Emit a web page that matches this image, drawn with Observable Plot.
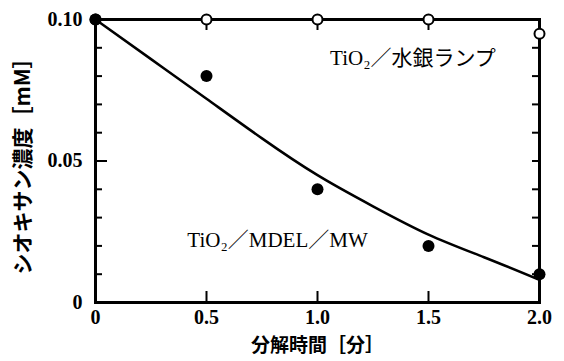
<!DOCTYPE html>
<html>
<head>
<meta charset="utf-8">
<script src="https://cdn.jsdelivr.net/npm/d3@7"></script>
<script src="https://cdn.jsdelivr.net/npm/@observablehq/plot@0.6"></script>
<style>
  html, body { margin: 0; padding: 0; background: #fff; }
</style>
</head>
<body>
<div id="chart"></div>
<script>
// Measured data
const times = [0, 0.5, 1.0, 1.5, 2.0];
const mdelMw = [0.100, 0.080, 0.040, 0.020, 0.010];   // TiO2/MDEL/MW (filled)
const mercury = [0.100, 0.100, 0.100, 0.100, 0.095];  // TiO2/水銀ランプ (open)
// Fitted curve
const fitTimes = [0, 0.25, 0.5, 0.75, 1.0, 1.25, 1.5, 1.75, 2.0];
const fitValues = [0.100, 0.086, 0.072, 0.058, 0.045, 0.034, 0.024, 0.016, 0.008];
// Ticks
const xTicks = [0, 0.5, 1.0, 1.5, 2.0];
const xTickLabels = ["0", "0.5", "1.0", "1.5", "2.0"];
const xInnerTicks = [0.5, 1.0, 1.5];
const yTicks = [0, 0.05, 0.10];
const yTickLabels = ["0", "0.05", "0.10"];
const yMinorTicks = [0.01, 0.02, 0.03, 0.04, 0.06, 0.07, 0.08, 0.09];
const yMajorInner = [0.05];
// Text
const xLabel = "分解時間［分］";
const yLabel = "シオキサン濃度［mM］";
const annotations = [
  {x: 1.43, y: 0.0862, text: "TiO₂／水銀ランプ"},
  {x: 0.82, y: 0.0219, text: "TiO₂／MDEL／MW"}
];

const filled = times.map((t, i) => ({t, v: mdelMw[i]}));
const open = times.map((t, i) => ({t, v: mercury[i]}));
const fit = fitTimes.map((t, i) => ({t, v: fitValues[i]}));

const serif = "'Liberation Serif', 'DejaVu Serif', 'Noto Sans CJK JP', serif";
const jp = "'Noto Sans CJK JP', sans-serif";

const W = 564, H = 361, ML = 95, MR = 25, MT = 19, MB = 59;
const FW = W - ML - MR, FH = H - MT - MB;
const tk = {stroke: "#000", strokeWidth: 2};

const chart = Plot.plot({
  width: W,
  height: H,
  marginLeft: ML,
  marginRight: MR,
  marginTop: MT,
  marginBottom: MB,
  x: {domain: [0, 2]},
  y: {domain: [0, 0.1]},
  style: {fontFamily: serif, background: "#fff", color: "#000"},
  marks: [
    Plot.axisX(xTicks, {anchor: "bottom", tickSize: 0, tickPadding: 7, fontSize: 20, fontWeight: "bold",
      tickFormat: (d) => xTickLabels[xTicks.indexOf(d)], label: null}),
    Plot.axisY(yTicks, {anchor: "left", tickSize: 0, tickPadding: 13, fontSize: 20, fontWeight: "bold",
      tickFormat: (d) => yTickLabels[yTicks.indexOf(d)], label: null}),
    Plot.frame({stroke: "#000", strokeWidth: 3}),
    Plot.line(fit, {x: "t", y: "v", curve: "natural", stroke: "#000", strokeWidth: 2.5}),
    Plot.text(annotations, {x: "x", y: "y", text: "text", fontSize: 21, fontFamily: serif, fill: "#000"}),
    Plot.text([xLabel], {frameAnchor: "bottom", dy: 43, lineAnchor: "middle", textAnchor: "middle",
      fontSize: 19, fontFamily: jp, fontWeight: "bold", fill: "#000"}),
    Plot.text([yLabel], {frameAnchor: "left", dx: -72, rotate: -90, lineAnchor: "middle", textAnchor: "middle",
      fontSize: 21, fontFamily: jp, fontWeight: "bold", fill: "#000"}),
    // inward ticks, drawn on top
    Plot.ruleX(xInnerTicks, {x: (d) => d, insetTop: FH - 11, ...tk}),
    Plot.ruleX(xInnerTicks, {x: (d) => d, insetBottom: FH - 11, ...tk}),
    Plot.ruleY(yMinorTicks, {y: (d) => d, insetRight: FW - 7, ...tk}),
    Plot.ruleY(yMajorInner, {y: (d) => d, insetRight: FW - 12, ...tk}),
    Plot.ruleY(yMinorTicks.concat(yMajorInner), {y: (d) => d, insetLeft: FW - 7, ...tk}),
    Plot.dot(open, {x: "t", y: "v", r: 5, fill: "#fff", stroke: "#000", strokeWidth: 2}),
    Plot.dot(filled, {x: "t", y: "v", r: 6, fill: "#000", stroke: "none"})
  ]
});
document.getElementById("chart").appendChild(chart);
</script>
</body>
</html>
